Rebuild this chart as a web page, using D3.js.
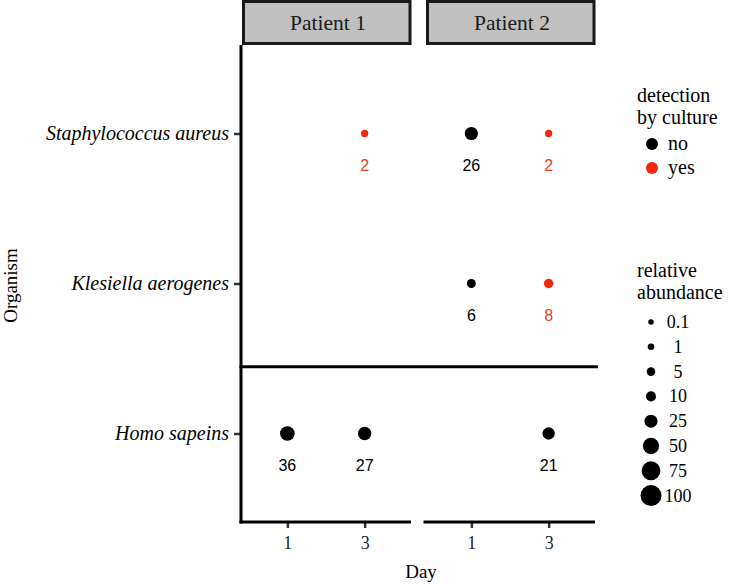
<!DOCTYPE html>
<html>
<head>
<meta charset="utf-8">
<script src="https://cdn.jsdelivr.net/npm/d3@7"></script>
<style>
  html, body { margin: 0; padding: 0; background: #fff; }
  svg { display: block; }
</style>
</head>
<body>
<script>
// ---- data ----
const organisms = ["Staphylococcus aureus", "Klesiella aerogenes", "Homo sapeins"];
const patients = ["Patient 1", "Patient 2"];
const days = ["1", "3"];
const cultureLevels = ["no", "yes"];
const sizeBreaks = [0.1, 1, 5, 10, 25, 50, 75, 100];

const pointPatient  = ["Patient 1", "Patient 2", "Patient 2", "Patient 2", "Patient 2", "Patient 1", "Patient 1", "Patient 2"];
const pointDay      = ["3", "1", "3", "1", "3", "1", "3", "3"];
const pointOrganism = ["Staphylococcus aureus", "Staphylococcus aureus", "Staphylococcus aureus",
                       "Klesiella aerogenes", "Klesiella aerogenes",
                       "Homo sapeins", "Homo sapeins", "Homo sapeins"];
const pointAbundance = [2, 26, 2, 6, 8, 36, 27, 21];
const pointCulture   = ["yes", "no", "yes", "no", "yes", "no", "no", "no"];

(function () {
const W = 752, H = 588;
const serif = "Liberation Serif";
const sans = "Liberation Sans";
const red = "#f2280c";

const svg = d3.select("body").append("svg").attr("width", W).attr("height", H);

const panelX = { "Patient 1": [241, 411], "Patient 2": [425, 595] };
const plotTop = 45, plotBottom = 522;

const y = d3.scalePoint().domain(organisms).range([plotTop, plotBottom]).padding(0.59);
const xScales = {};
patients.forEach(p => {
  xScales[p] = d3.scalePoint().domain(days).range(panelX[p]).padding(0.6);
});
const color = d3.scaleOrdinal().domain(cultureLevels).range(["#000000", red]);
const r = d3.scaleSqrt().domain([0, 100]).range([2.5, 10.5]);

// strips
patients.forEach(p => {
  const [x0, x1] = panelX[p];
  svg.append("rect")
    .attr("x", x0 + 2.5).attr("y", 1.5)
    .attr("width", x1 - x0 - 3.5).attr("height", 42)
    .attr("fill", "#c0c0c0").attr("stroke", "#1a1a1a").attr("stroke-width", 3);
  svg.append("text")
    .attr("x", (x0 + x1) / 2 + 2).attr("y", 30)
    .attr("text-anchor", "middle")
    .style("font-family", serif).style("font-size", "21.5px").attr("fill", "#1a1a1a")
    .text(p);
});

// y axis
const yAxis = d3.axisLeft(y).tickSize(7).tickPadding(5);
const gy = svg.append("g").attr("transform", `translate(${panelX["Patient 1"][0]},0)`).call(yAxis);
gy.select(".domain").remove();
gy.selectAll(".tick line").attr("stroke", "#333").attr("stroke-width", 2.5);
gy.selectAll(".tick text")
  .style("font-family", serif).style("font-size", "20px").style("font-style", "italic")
  .attr("fill", "#000");
svg.append("line")
  .attr("x1", panelX["Patient 1"][0]).attr("x2", panelX["Patient 1"][0])
  .attr("y1", plotTop).attr("y2", plotBottom + 1.5)
  .attr("stroke", "#000").attr("stroke-width", 3);

// x axes
patients.forEach(p => {
  const xAxis = d3.axisBottom(xScales[p]).tickSize(6).tickPadding(8);
  const g = svg.append("g").attr("transform", `translate(0,${plotBottom})`).call(xAxis);
  g.select(".domain").remove();
  g.selectAll(".tick line").attr("stroke", "#333").attr("stroke-width", 2.5);
  g.selectAll(".tick text")
    .style("font-family", serif).style("font-size", "18px").attr("fill", "#222");
  svg.append("line")
    .attr("x1", panelX[p][0] - 1.5).attr("x2", panelX[p][1])
    .attr("y1", plotBottom).attr("y2", plotBottom)
    .attr("stroke", "#000").attr("stroke-width", 3);
});

// separator line between bacteria and host
const sepY = y("Klesiella aerogenes") + y.step() * 0.555;
svg.append("line")
  .attr("x1", panelX["Patient 1"][0] - 1.5).attr("x2", panelX["Patient 2"][1] + 3)
  .attr("y1", sepY).attr("y2", sepY)
  .attr("stroke", "#000").attr("stroke-width", 3);

// axis titles
svg.append("text")
  .attr("x", (panelX["Patient 1"][0] + panelX["Patient 2"][1]) / 2 + 3).attr("y", 578)
  .attr("text-anchor", "middle")
  .style("font-family", serif).style("font-size", "19px").attr("fill", "#000")
  .text("Day");
svg.append("text")
  .attr("transform", `translate(17,${(plotTop + plotBottom) / 2 + 2}) rotate(-90)`)
  .attr("text-anchor", "middle")
  .style("font-family", serif).style("font-size", "19px").attr("fill", "#000")
  .text("Organism");

// points
const pts = pointAbundance.map((v, i) => ({
  patient: pointPatient[i], day: pointDay[i], organism: pointOrganism[i],
  value: v, culture: pointCulture[i]
}));
svg.append("g").selectAll("circle").data(pts).join("circle")
  .attr("cx", d => xScales[d.patient](d.day))
  .attr("cy", d => y(d.organism))
  .attr("r", d => r(d.value))
  .attr("fill", d => color(d.culture));
svg.append("g").selectAll("text").data(pts).join("text")
  .attr("x", d => xScales[d.patient](d.day))
  .attr("y", d => y(d.organism) + 37)
  .attr("text-anchor", "middle")
  .style("font-family", sans).style("font-size", "16px")
  .attr("fill", d => d.culture === "yes" ? "#e8402a" : "#000")
  .text(d => d.value);

// legend: detection
const lg1 = svg.append("g");
["detection", "by culture"].forEach((t, i) => {
  lg1.append("text").attr("x", 637).attr("y", 102 + i * 22)
    .style("font-family", serif).style("font-size", "20px").attr("fill", "#000").text(t);
});
cultureLevels.forEach((c, i) => {
  const cy = 144 + i * 24;
  lg1.append("circle").attr("cx", 652).attr("cy", cy).attr("r", 6).attr("fill", color(c));
  lg1.append("text").attr("x", 668).attr("y", cy + 6)
    .style("font-family", serif).style("font-size", "20px").attr("fill", "#000").text(c);
});

// legend: relative abundance
const lg2 = svg.append("g");
["relative", "abundance"].forEach((t, i) => {
  lg2.append("text").attr("x", 637).attr("y", 277 + i * 22)
    .style("font-family", serif).style("font-size", "20px").attr("fill", "#000").text(t);
});
sizeBreaks.forEach((b, i) => {
  const cy = 322 + i * 24.8;
  lg2.append("circle").attr("cx", 651).attr("cy", cy).attr("r", r(b)).attr("fill", "#000");
  lg2.append("text").attr("x", 678).attr("y", cy + 6)
    .attr("text-anchor", "middle")
    .style("font-family", serif).style("font-size", "18px").attr("fill", "#000").text(b);
});
})();
</script>
</body>
</html>
